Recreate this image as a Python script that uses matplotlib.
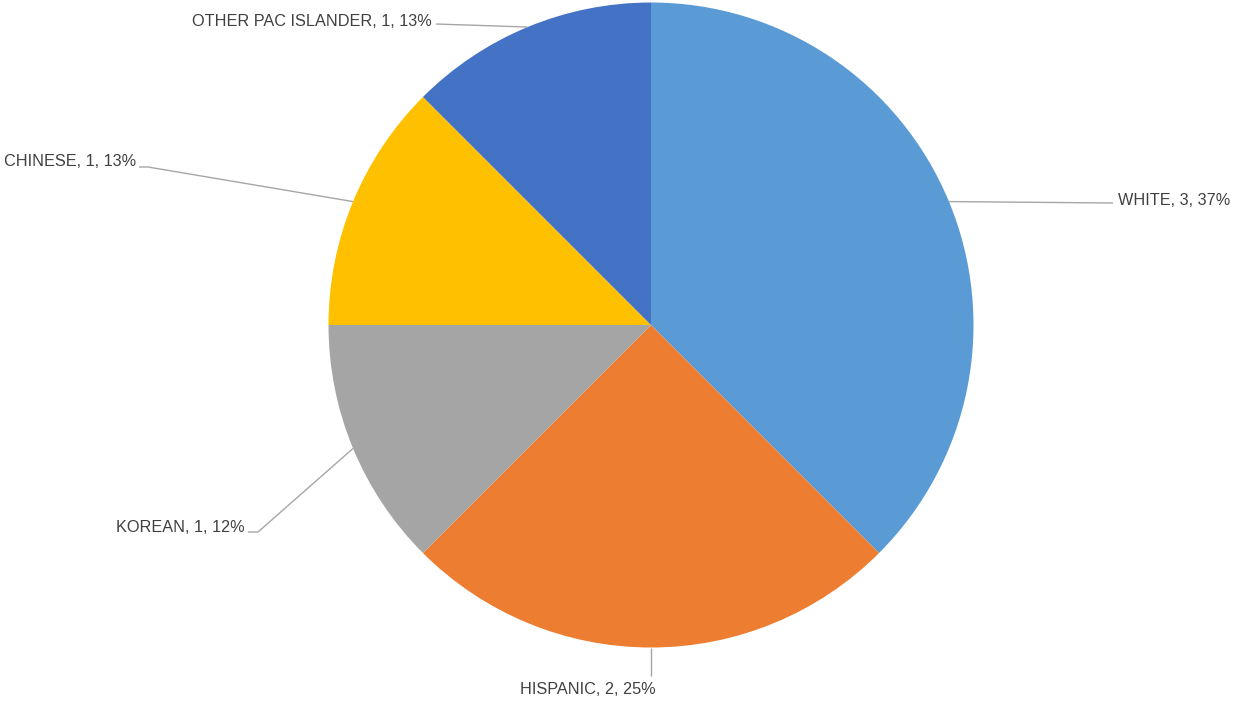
"""Pie chart: ethnicity breakdown (Excel-style data labels with leader lines)."""

import numpy as np
import matplotlib
matplotlib.use("Agg")
import matplotlib.pyplot as plt

categories = ['WHITE', 'HISPANIC', 'KOREAN', 'CHINESE', 'OTHER PAC ISLANDER']
counts = [3, 2, 1, 1, 1]
pct_labels = ['37%', '25%', '12%', '13%', '13%']   # as printed on the chart
colors = ['#5B9BD5', '#ED7D31', '#A5A5A5', '#FFC000', '#4472C4']

W, H = 1238, 702
CX, CY, R = 651, 325, 322.5   # pie centre / radius in pixels


def px(x, y):
    """pixel (from top-left) -> data coords, pie radius = 1"""
    return (x - CX) / R, (CY - y) / R


# label layout in pixels: text pos, alignment, leader end points
layout = {
    'WHITE': ((1118, 200), 'left', [(1113, 203)]),
    'HISPANIC': ((656, 689), 'right', [(651, 676)]),
    'KOREAN': ((245, 528), 'right', [(258, 532), (248, 532)]),
    'CHINESE': ((136, 161), 'right', [(148, 167), (139, 167)]),
    'OTHER PAC ISLANDER': ((432, 21), 'right', [(436, 24)]),
}

fig = plt.figure(figsize=(W / 100, H / 100), dpi=100)
ax = fig.add_axes([0, 0, 1, 1])

wedges, _ = ax.pie(counts, colors=colors, startangle=90, counterclock=False,
                   radius=1, wedgeprops=dict(linewidth=0))

ax.set_xlim(px(0, 0)[0], px(W, 0)[0])
ax.set_ylim(px(0, H)[1], px(0, 0)[1])
ax.set_aspect('auto')
ax.axis('off')

for w, name, n, pct in zip(wedges, categories, counts, pct_labels):
    mid = np.deg2rad((w.theta1 + w.theta2) / 2)
    start = (np.cos(mid), np.sin(mid))
    (tx, ty), ha, pts = layout[name]
    line = [start] + [px(*p) for p in pts]
    xs, ys = zip(*line)
    ax.plot(xs, ys, color='#A6A6A6', lw=1.0, solid_capstyle='butt')
    x, y = px(tx, ty)
    ax.text(x, y, f'{name}, {n}, {pct}', ha=ha, va='center',
            fontsize=11.7, color='#404040', family='Liberation Sans')

plt.savefig('out.png', dpi=100)
